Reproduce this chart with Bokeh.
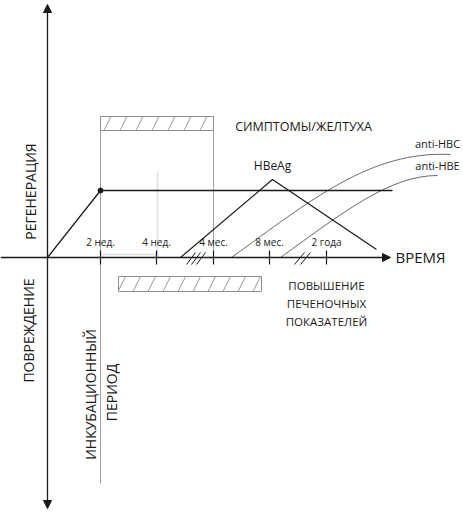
from math import pi
from bokeh.plotting import figure
from bokeh.models import Range1d, Arrow, NormalHead, ColumnDataSource
from bokeh.core.properties import value
from bokeh.embed import file_html
from bokeh.resources import INLINE

FONT = value("Open Sans")
INK = "#1a1a1a"

# ---- diagram data (diagram units) ----
axis_origin = (47, 257)
time_axis_x = [0, 390]
damage_axis_y = [508, 4]

tick_x = [100, 156, 213, 269, 326]
tick_labels = ["2 нед.", "4 нед.", "4 мес.", "8 мес.", "2 года"]

break_x0 = [186, 191, 196, 294, 300]
break_x1 = [195, 200, 205, 304, 310]

regen_x = [47, 100, 392]
regen_y = [257, 190, 190]

hbeag_x = [180, 272, 376]
hbeag_y = [257, 179, 249]

# anti-HBC / anti-HBE curves (start, control1, control2, end)
anti_names = ["anti-HBC", "anti-HBE"]
anti_x0 = [231, 280]
anti_y0 = [257, 257]
anti_cx0 = [310, 345]
anti_cy0 = [200, 210]
anti_cx1 = [370, 390]
anti_cy1 = [150, 175]
anti_x1 = [450, 437]
anti_y1 = [154, 175]
anti_label_x = [437, 437]
anti_label_y = [143, 165]

symptom_left, symptom_right = 100, 213
symptom_top, symptom_strip = 116, 130
incub_bottom = 483

liver_left, liver_right = 118, 261
liver_top, liver_bottom = 276, 291

p = figure(width=463, height=513, output_backend="svg", toolbar_location=None,
           x_range=Range1d(0, 463), y_range=Range1d(513, 0),
           x_axis_location=None, y_axis_location=None, min_border=0,
           outline_line_color=None)
p.grid.grid_line_color = None

# symptoms box (light gray frame)
p.segment(x0=[symptom_left, symptom_right, symptom_left, 157, symptom_left],
          y0=[symptom_top, symptom_top, symptom_strip, 172, 254],
          x1=[symptom_left, symptom_right, symptom_right, 157, 157],
          y1=[incub_bottom, axis_origin[1], symptom_strip, axis_origin[1], 254],
          line_color=["#a0a0a0", "#a0a0a0", "#a0a0a0", "#dddddd", "#dddddd"],
          line_width=[1, 1, 1, 1.6, 1.6])
p.quad(left=[symptom_left], right=[symptom_right], top=[symptom_top], bottom=[symptom_strip],
       fill_color=None, line_color="#909090", line_width=1,
       hatch_pattern="/", hatch_color="#808080", hatch_scale=32, hatch_weight=0.8)
p.quad(left=[liver_left], right=[liver_right], top=[liver_top], bottom=[liver_bottom],
       fill_color=None, line_color="#909090", line_width=1,
       hatch_pattern="/", hatch_color="#808080", hatch_scale=30, hatch_weight=0.8)

# curves
p.bezier(x0=anti_x0, y0=anti_y0, x1=anti_x1, y1=anti_y1,
         cx0=anti_cx0, cy0=anti_cy0, cx1=anti_cx1, cy1=anti_cy1,
         line_color="#444444", line_width=0.8)
p.line(regen_x, regen_y, line_color=INK, line_width=1.3)
p.scatter([regen_x[1]], [regen_y[1]], size=5, color=INK)
p.line(hbeag_x, hbeag_y, line_color=INK, line_width=1.2)

# axes
axes = ColumnDataSource(dict(xs=[time_axis_x[0], axis_origin[0], axis_origin[0]],
                             ys=[axis_origin[1], axis_origin[1], axis_origin[1]],
                             xe=[time_axis_x[1], axis_origin[0], axis_origin[0]],
                             ye=[axis_origin[1], damage_axis_y[1], damage_axis_y[0]]))
p.add_layout(Arrow(source=axes, x_start="xs", y_start="ys", x_end="xe", y_end="ye",
                   line_color=INK, line_width=1.3,
                   end=NormalHead(size=8, fill_color=INK, line_color=INK)))

# ticks & breaks
p.segment(x0=tick_x, x1=tick_x, y0=[250] * 5, y1=[264] * 5, line_color=INK, line_width=1.2)
p.segment(x0=break_x0, x1=break_x1, y0=[264] * 5, y1=[252] * 5, line_color=INK, line_width=1)
p.text(x=tick_x, y=[241] * 5, text=tick_labels, text_font=FONT, text_font_size="10px",
       text_align="center", text_baseline="middle", text_color=INK)

# labels
def label(x, y, t, size, angle=0.0, align="center"):
    p.text(x=[x], y=[y], text=[t], text_font=FONT, text_font_size=size,
           text_align=align, text_baseline="middle", angle=angle, text_color=INK)

label(395, 256, "ВРЕМЯ", "15px", align="left")
label(303, 126, "СИМПТОМЫ/ЖЕЛТУХА", "12.5px")
label(272, 165, "HBeAg", "12px")
for n, lx, ly in zip(anti_names, anti_label_x, anti_label_y):
    label(lx, ly, n, "11px")
label(326, 285, "ПОВЫШЕНИЕ", "11.5px")
label(326, 303, "ПЕЧЕНОЧНЫХ", "11.5px")
label(326, 321, "ПОКАЗАТЕЛЕЙ", "11.5px")
label(30, 191, "РЕГЕНЕРАЦИЯ", "14px", angle=pi / 2)
label(28, 330, "ПОВРЕЖДЕНИЕ", "14px", angle=pi / 2)
label(90, 394, "ИНКУБАЦИОННЫЙ", "14px", angle=pi / 2)
label(111, 392, "ПЕРИОД", "14px", angle=pi / 2)

open("out.html", "w").write(file_html(p, INLINE))
